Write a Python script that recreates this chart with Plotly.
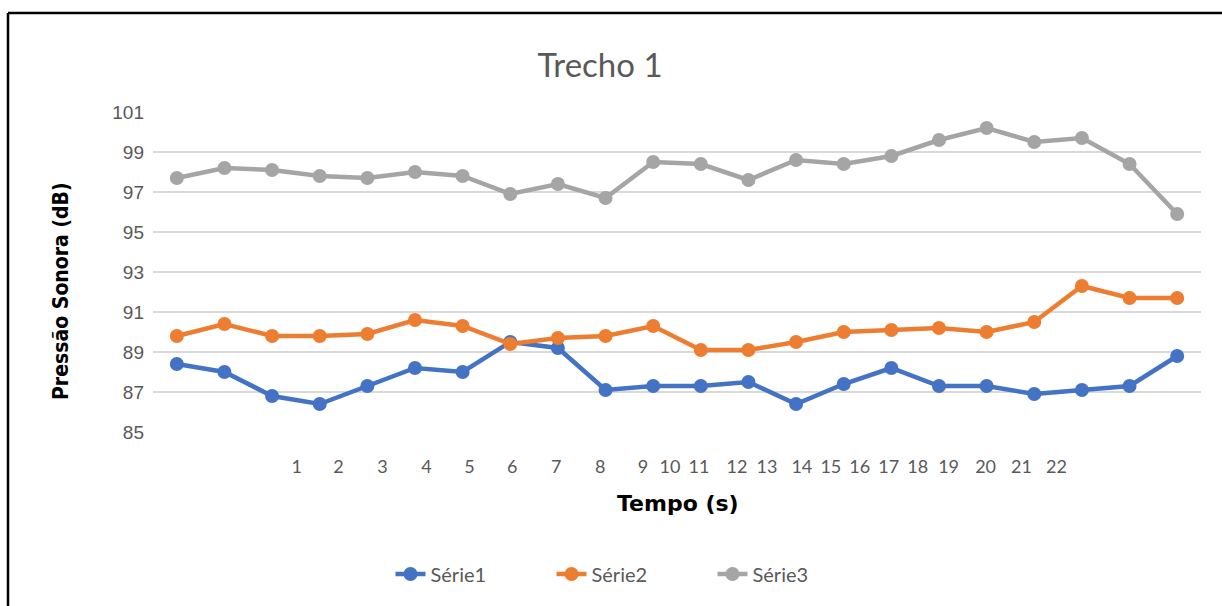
import plotly.graph_objects as go

# ---- data ----
x_index = list(range(1, 23))
serie1 = [88.4, 88.0, 86.8, 86.4, 87.3, 88.2, 88.0, 89.5, 89.2, 87.1, 87.3,
          87.3, 87.5, 86.4, 87.4, 88.2, 87.3, 87.3, 86.9, 87.1, 87.3, 88.8]
serie2 = [89.8, 90.4, 89.8, 89.8, 89.9, 90.6, 90.3, 89.4, 89.7, 89.8, 90.3,
          89.1, 89.1, 89.5, 90.0, 90.1, 90.2, 90.0, 90.5, 92.3, 91.7, 91.7]
serie3 = [97.7, 98.2, 98.1, 97.8, 97.7, 98.0, 97.8, 96.9, 97.4, 96.7, 98.5,
          98.4, 97.6, 98.6, 98.4, 98.8, 99.6, 100.2, 99.5, 99.7, 98.4, 95.9]
series_names = ["Série1", "Série2", "Série3"]
x_tick_labels = [str(i) for i in range(1, 23)]
y_tick_values = list(range(85, 102, 2))

# layout-only: where the (misaligned) x tick labels sit, in category units
x_tick_label_pos = [3.515, 4.395, 5.318, 6.240, 7.141, 8.043, 8.965, 9.887,
                    10.788, 11.354, 11.962, 12.758, 13.387, 14.121, 14.729,
                    15.337, 15.944, 16.552, 17.202, 17.978, 18.732, 19.466]

colors = ["#4472C4", "#ED7D31", "#A5A5A5"]

W, H = 1222, 606
L, R, T, B = 153, 21, 112, 174
pw, ph = W - L - R, H - T - B


def px2paper_x(px):
    return (px - L) / pw


def px2paper_y(py):
    return (H - B - py) / ph


fig = go.Figure()
for name, vals, c in zip(series_names, [serie1, serie2, serie3], colors):
    fig.add_trace(go.Scatter(
        x=x_index, y=vals, name=name, mode="lines+markers",
        line=dict(color=c, width=4.5),
        marker=dict(color=c, size=14),
    ))

# invisible trace to carry the secondary x axis with shifted labels
fig.add_trace(go.Scatter(x=[x_index[0]], y=[serie1[0]], xaxis="x2",
                         mode="markers", marker=dict(opacity=0),
                         showlegend=False, hoverinfo="skip"))

fig.update_layout(
    width=W, height=H,
    margin=dict(l=L, r=R, t=T, b=B),
    paper_bgcolor="white", plot_bgcolor="white",
    font=dict(family="Lato", color="#595959"),
    title=dict(text="Trecho 1", x=600 / W, y=1 - 65 / H,
               xanchor="center", yanchor="middle",
               font=dict(family="Lato", size=33, color="#595959")),
    xaxis=dict(range=[0.5, 22.5], showticklabels=False, showgrid=False,
               zeroline=False, showline=False, ticks=""),
    xaxis2=dict(range=[0.5, 22.5], overlaying="x", side="bottom",
                anchor="y", tickmode="array", tickvals=x_tick_label_pos,
                ticktext=x_tick_labels, showgrid=False, zeroline=False,
                showline=False, ticks="", ticklabelstandoff=22,
                tickfont=dict(family="Lato", size=18, color="#595959")),
    yaxis=dict(range=[85, 101], tickmode="array", tickvals=y_tick_values,
               showgrid=True, gridcolor="#D9D9D9", gridwidth=1.5,
               zeroline=False, showline=False, ticks="",
               ticklabelstandoff=8,
               tickfont=dict(family="Liberation Sans", size=19, color="#595959")),
    legend=dict(orientation="h", x=px2paper_x(632), y=px2paper_y(574),
                xanchor="center", yanchor="middle",
                font=dict(family="Lato", size=20, color="#595959"),
                entrywidth=116, entrywidthmode="pixels",
                bgcolor="rgba(0,0,0,0)"),
    showlegend=True,
)

fig.add_annotation(text="<b>Tempo (s)</b>", xref="paper", yref="paper",
                   x=px2paper_x(678), y=px2paper_y(503), showarrow=False,
                   xanchor="center", yanchor="middle",
                   font=dict(family="DejaVu Sans", size=22, color="black"))
fig.add_annotation(text="<b>Pressão Sonora (dB)</b>", xref="paper", yref="paper",
                   x=px2paper_x(61), y=px2paper_y(291), showarrow=False,
                   textangle=-90, xanchor="center", yanchor="middle",
                   font=dict(family="DejaVu Sans Condensed", size=21, color="black"))

# black frame (top and left edges visible in the picture)
fig.add_shape(type="line", xref="paper", yref="paper",
              x0=px2paper_x(8), x1=px2paper_x(1240),
              y0=px2paper_y(13), y1=px2paper_y(13),
              line=dict(color="black", width=2.5))
fig.add_shape(type="line", xref="paper", yref="paper",
              x0=px2paper_x(8), x1=px2paper_x(8),
              y0=px2paper_y(13), y1=px2paper_y(620),
              line=dict(color="black", width=2.5))

fig.write_html("out.html",
               config={"displayModeBar": False},
               post_script="document.body.style.margin='0';"
                           "document.body.style.overflow='hidden';")
